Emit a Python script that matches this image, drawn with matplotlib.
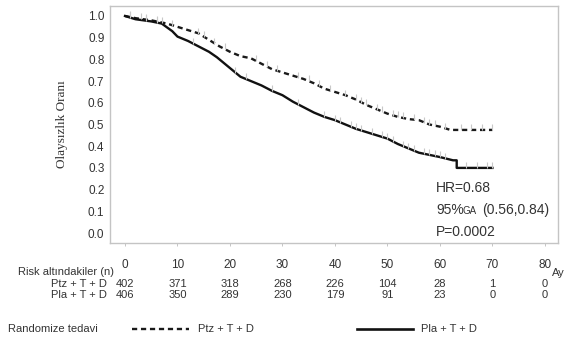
import numpy as np
import matplotlib.pyplot as plt
import matplotlib.transforms as mtransforms

plt.rcParams['font.family'] = ['Liberation Sans', 'DejaVu Sans']

# Kaplan-Meier krivky (odhad z obrázku)
ptz_t = [0, 2, 5, 8, 10, 12, 14, 16, 18, 20, 22, 24, 26, 28, 30, 32, 34, 36, 38, 40,
         42, 44, 46, 48, 50, 52, 54, 56, 58, 60, 62, 70]
ptz_s = [1.0, 0.99, 0.98, 0.965, 0.95, 0.935, 0.92, 0.89, 0.86, 0.835, 0.815, 0.805,
         0.78, 0.755, 0.74, 0.725, 0.71, 0.69, 0.665, 0.65, 0.635, 0.615, 0.59, 0.57,
         0.55, 0.535, 0.525, 0.52, 0.5, 0.49, 0.475, 0.475]

pla_t = [0, 2, 5, 7, 9, 10, 12, 14, 16, 17.5, 19, 21, 22, 24, 26, 28, 30, 32, 34, 36,
         38, 40, 42, 44, 46, 48, 50, 52, 54, 56, 58, 60, 62.5, 63.2, 63.2, 70]
pla_s = [1.0, 0.985, 0.975, 0.965, 0.93, 0.905, 0.885, 0.86, 0.835, 0.81, 0.78, 0.74,
         0.72, 0.7, 0.68, 0.655, 0.635, 0.605, 0.58, 0.555, 0.535, 0.52, 0.5, 0.48,
         0.465, 0.45, 0.435, 0.41, 0.39, 0.37, 0.36, 0.35, 0.335, 0.335, 0.30, 0.30]

# cenzurovaná pozorování
ptz_cens = [1, 3, 4, 6, 7, 9, 14, 15, 17, 19, 25, 27, 29, 33, 35, 37, 39, 42, 44, 45,
            46, 48, 49, 51, 52, 53, 55, 57, 58, 59, 61, 64, 66, 68, 70]
pla_cens = [1, 4, 6, 13, 21, 23, 28, 33, 38, 40, 41, 43, 44, 45, 47, 49, 50, 51, 53,
            54, 55, 57, 58, 59, 60, 61, 65, 67, 69, 70]

# Tabulka rizika
risk_times = [0, 10, 20, 30, 40, 50, 60, 70, 80]
risk_ptz = [402, 371, 318, 268, 226, 104, 28, 1, 0]
risk_pla = [406, 350, 289, 230, 179, 91, 23, 0, 0]

W, H = 569, 340
fig = plt.figure(figsize=(W / 100, H / 100), dpi=100)
ax = fig.add_axes([110 / W, 1 - 243 / H, 448 / W, 237 / H])

dash = (0, (2.2, 1.6))
ax.plot(ptz_t, ptz_s, color='#1a1a1a', lw=1.7, linestyle=dash)
ax.plot(pla_t, pla_s, color='#111111', lw=1.7)

ax.plot(ptz_cens, np.interp(ptz_cens, ptz_t, ptz_s) + 0.012, linestyle='none',
        marker='|', ms=5, mew=0.8, color='#c8c8c8')
ax.plot(pla_cens, np.interp(pla_cens, pla_t, pla_s) + 0.012, linestyle='none',
        marker='|', ms=5, mew=0.8, color='#c8c8c8')

ax.set_xlim(-2.86, 82.5)
ax.set_ylim(-0.046, 1.046)
ax.set_xticks(risk_times)
ax.set_yticks(np.arange(0, 1.01, 0.1))
ax.set_yticklabels([f'{v:.1f}' for v in np.arange(0, 1.01, 0.1)])
ax.tick_params(axis='x', length=2.5, width=0.6, color='#bbbbbb', pad=9,
               labelsize=8.5, labelcolor='#333333')
ax.tick_params(axis='y', length=0, pad=4, labelsize=8.5, labelcolor='#333333')
for s in ax.spines.values():
    s.set_color('#c4c4c4')
    s.set_linewidth(1.0)

ax.set_ylabel('Olaysızlık Oranı', family='Liberation Serif', fontsize=9.5,
              color='#333333', labelpad=14)

# HR text
def px2x(px):
    return (px - 125) / 5.25

def py2y(py):
    return (233 - py) / 217

tk = dict(color='#333333', va='center', ha='left')
ax.text(px2x(436), py2y(188), 'HR=0.68', fontsize=10, **tk)
ax.text(px2x(436), py2y(210), '95%', fontsize=10, **tk)
ax.text(px2x(463), py2y(210.5), 'GA', fontsize=7, **tk)
ax.text(px2x(482), py2y(210), '(0.56,0.84)', fontsize=10, **tk)
ax.text(px2x(436), py2y(232), 'P=0.0002', fontsize=10, **tk)

# tabulka pod grafem
tr = mtransforms.blended_transform_factory(ax.transData, fig.transFigure)
fs = 8
tc = '#333333'
fig.text(18 / W, 1 - 271.7 / H, 'Risk altındakiler (n)', fontsize=fs, color=tc,
         va='center', ha='left')
fig.text(107 / W, 1 - 284 / H, 'Ptz + T + D', fontsize=fs, color=tc, va='center', ha='right')
fig.text(107 / W, 1 - 295 / H, 'Pla + T + D', fontsize=fs, color=tc, va='center', ha='right')
for t, a, b in zip(risk_times, risk_ptz, risk_pla):
    fig.text(t, 1 - 284 / H, str(a), transform=tr, fontsize=fs, color=tc,
             va='center', ha='center')
    fig.text(t, 1 - 295 / H, str(b), transform=tr, fontsize=fs, color=tc,
             va='center', ha='center')
fig.text(552 / W, 1 - 273 / H, 'Ay', fontsize=fs, color=tc, va='center', ha='left')

# legenda
ly = 1 - 329 / H
fig.text(8 / W, ly, 'Randomize tedavi', fontsize=fs, color=tc, va='center', ha='left')
fig.add_artist(plt.Line2D([132 / W, 189 / W], [ly, ly], color='#1a1a1a', lw=1.7,
                          linestyle=dash))
fig.text(198 / W, ly, 'Ptz + T + D', fontsize=fs, color=tc, va='center', ha='left')
fig.add_artist(plt.Line2D([357 / W, 413 / W], [ly, ly], color='#111111', lw=1.9))
fig.text(421 / W, ly, 'Pla + T + D', fontsize=fs, color=tc, va='center', ha='left')

fig.savefig('out.png', dpi=100)
